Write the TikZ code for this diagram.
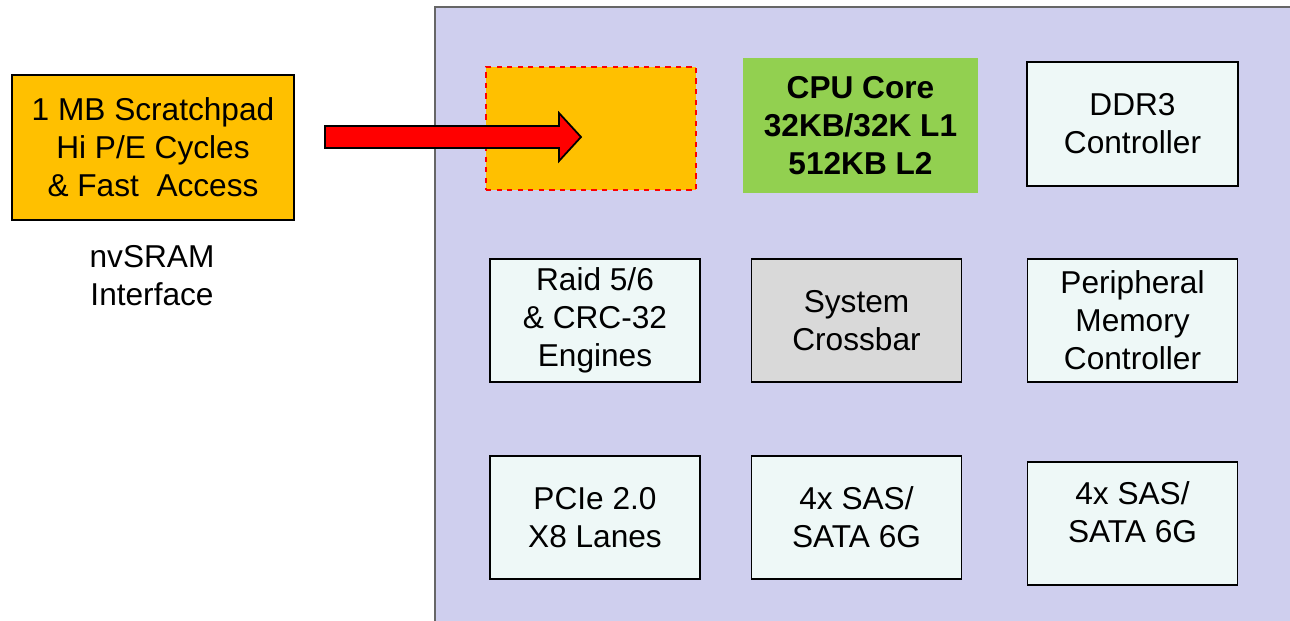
\documentclass[tikz,border=0pt]{standalone}
\usepackage{fontspec}
\setmainfont{Liberation Sans}
\usetikzlibrary{arrows}

\definecolor{panelblue}{HTML}{CFCFEE}
\definecolor{scratchorange}{HTML}{FFC000}
\definecolor{coregreen}{HTML}{92D050}
\definecolor{unitwhite}{HTML}{EEF8F7}
\definecolor{xbargray}{HTML}{D9D9D9}

\begin{document}
\begin{tikzpicture}[x=0.02cm,y=-0.02cm]
			\tikzstyle{unit}=[rectangle,draw=black,line width=0.9pt,fill=unitwhite,minimum width=4.2cm,minimum height=2.46cm,align=center,inner sep=0pt,font=\fontsize{18}{21.6}\selectfont]
			\tikzstyle{crossbar unit} = [unit, fill=xbargray]
			\tikzstyle{core unit} = [unit, draw=none, fill=coregreen, minimum width=4.7cm, minimum height=2.7cm, font=\fontsize{18}{21.6}\selectfont\bfseries]
			\tikzstyle{scratch} = [unit, fill=scratchorange, line width=0.7pt, minimum width=5.64cm, minimum height=2.9cm]
			\tikzstyle{scratch slot} = [unit, fill=scratchorange, draw=red, dashed, line width=0.8pt]
			\tikzstyle{caption} = [align=center,font=\fontsize{18}{21.6}\selectfont]
			\tikzstyle{block arrow} = [draw=black,line width=1pt,fill=red]
			
			\useasboundingbox (0,0) rectangle (1290,620);
			\path[draw=black!60,line width=1.2pt,fill=panelblue] (435,7) rectangle (1310,640);
			
			\node[scratch] (pad) at (153,147.5) {1 MB Scratchpad\\ Hi P/E Cycles\\ \& Fast\ \ Access};
			\node[caption] (iface) at (152,276) {nvSRAM\\Interface};
			
			\node[scratch slot] (slot) at (591,128.5) {};
			\node[core unit] (cpu) at (860.5,125.5) {CPU Core\\32KB/32K L1\\512KB L2};
			\node[unit, minimum width=4.22cm, minimum height=2.48cm] (ddr) at (1132.5,124) {DDR3\\Controller};
			
			\node[unit] (raid) at (595,320.5) {Raid 5/6\\\& CRC-32\\Engines};
			\node[crossbar unit] (xbar) at (856.5,320.5) {System\\Crossbar};
			\node[unit] (pmc) at (1132.5,320.5) {Peripheral\\Memory\\Controller};
			
			\node[unit] (pcie) at (595,517.5) {PCIe 2.0\\X8 Lanes};
			\node[unit] (sas1) at (856.5,517.5) {4x SAS/\\SATA 6G};
			\node[unit] (sas2) at (1132.5,523.5) {};
			\node[caption] (sas2 text) at (1132.5,512.5) {4x SAS/\\SATA 6G};
			
			\coordinate (tail) at (325,137);
			\coordinate (tip) at (581,137);
			\draw[block arrow] (tail) ++(0,-11) -- ++(234,0) -- ++(0,-13) -- (tip) -- ++(-22,24) -- ++(0,-13) -- ++(-234,0) -- cycle;
		\end{tikzpicture}
\end{document}
